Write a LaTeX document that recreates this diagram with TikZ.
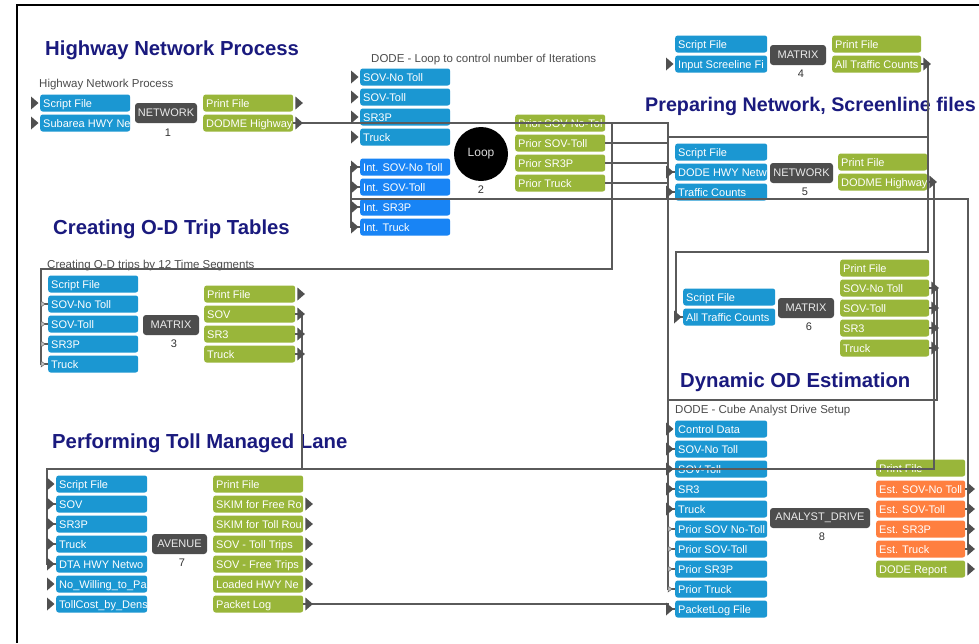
\documentclass[tikz,border=0pt]{standalone}
\usepackage{fontspec}
\setmainfont{Liberation Sans}
\usetikzlibrary{calc}
\definecolor{cblue}{RGB}{27,151,210}
\definecolor{cint}{RGB}{24,132,245}
\definecolor{cgreen}{RGB}{153,182,58}
\definecolor{corange}{RGB}{255,127,63}
\definecolor{cgray}{RGB}{77,77,77}
\definecolor{cnavy}{RGB}{26,26,126}
\definecolor{carrow}{RGB}{80,80,80}
\definecolor{cline}{RGB}{90,90,90}
\newcommand\bxf{\fontsize{11}{13}\selectfont}
\newcommand\ttlf{\fontsize{20.3}{24}\selectfont\bfseries}
\newcommand\lblf{\fontsize{11.5}{13}\selectfont}
% style, name, x, y, width, text
\newcommand\pbx[6]{%
  \node[pb,#1,minimum width=#5pt] (#2) at (#3,#4) {};
  \begin{scope}
    \clip[rounded corners=2.5pt] (#2.south west) rectangle (#2.north east);
    \node[pbt] (#2t) at ([xshift=3pt,yshift=-4pt]#2.west) {#6};
  \end{scope}}
\newcommand\portin[1]{\fill[arw] ([xshift=-9pt,yshift=6.5pt]#1.west) -- ([xshift=-9pt,yshift=-6.5pt]#1.west) -- ([xshift=-1.5pt]#1.west) -- cycle;}
\newcommand\portout[1]{\fill[arw] ([xshift=2pt,yshift=6.5pt]#1.east) -- ([xshift=2pt,yshift=-6.5pt]#1.east) -- ([xshift=9.5pt]#1.east) -- cycle;}
\newcommand\portsm[1]{\filldraw[arws] ([xshift=-7pt,yshift=3pt]#1.west) -- ([xshift=-7pt,yshift=-3pt]#1.west) -- ([xshift=-3pt]#1.west) -- cycle;}
\begin{document}
\begin{tikzpicture}[x=1pt,y=-1pt,
  pb/.style={anchor=west, minimum height=17pt, inner sep=0pt, rounded corners=2.5pt},
  pbt/.style={anchor=base west, inner sep=0pt, font=\bxf, text=white},
  inb/.style={fill=cblue}, intb/.style={fill=cint}, outb/.style={fill=cgreen}, estb/.style={fill=corange},
  proc/.style={fill=cgray, rounded corners=3pt, minimum height=20pt, inner sep=0pt, text=black!8, font=\bxf},
  num/.style={font=\bxf, text=black!80, inner sep=0pt},
  ttl/.style={anchor=base west, font=\ttlf, text=cnavy, inner sep=0pt},
  glabel/.style={anchor=base west, font=\lblf, text=black!70, inner sep=0pt},
  conn/.style={draw=cline, line width=1.1pt},
  arw/.style={fill=carrow},
  arws/.style={fill=gray!45, draw=gray!75!black, line width=0.5pt}
]
\useasboundingbox (0,0) rectangle (979,643);
\fill[white] (0,0) rectangle (979,643);
\draw[line width=1.6pt, black] (979,5) -- (17,5) -- (17,643);

% titles
\node[ttl] (t1) at (45,55) {Highway Network Process};
\node[ttl, font=\fontsize{19.7}{24}\selectfont\bfseries] (t2) at (645,111) {Preparing Network, Screenline files};
\node[ttl] (t3) at (53,234) {Creating O-D Trip Tables};
\node[ttl] (t4) at (680,387) {Dynamic OD Estimation};
\node[ttl] (t5) at (52,448) {Performing Toll Managed Lane};

% group labels
\node[glabel] (l1) at (39,87) {Highway Network Process};
\node[glabel] (l2) at (371,62) {DODE - Loop to control number of Iterations};
\node[glabel] (l3) at (47,268) {Creating O-D trips by 12 Time Segments};
\node[glabel] (l4) at (675,413) {DODE - Cube Analyst Drive Setup};

% node 1
\pbx{inb}{n1i1}{40}{103}{90}{Script File}
\pbx{inb}{n1i2}{40}{123}{90}{Subarea HWY Ne}
\node[proc, minimum width=62pt] (p1) at (166,113) {NETWORK};
\node[num] (num1) at (168,133) {1};
\pbx{outb}{n1o1}{203}{103}{90}{Print File}
\pbx{outb}{n1o2}{203}{123}{90}{DODME Highway}

% node 2
\pbx{inb}{n2i1}{360}{77}{90}{SOV-No Toll}
\pbx{inb}{n2i2}{360}{97}{90}{SOV-Toll}
\pbx{inb}{n2i3}{360}{117}{90}{SR3P}
\pbx{inb}{n2i4}{360}{137}{90}{Truck}
\pbx{intb}{n2i5}{360}{167}{90}{Int. SOV-No Toll}
\pbx{intb}{n2i6}{360}{187}{90}{Int. SOV-Toll}
\pbx{intb}{n2i7}{360}{207}{90}{Int. SR3P}
\pbx{intb}{n2i8}{360}{227}{90}{Int. Truck}
\node[circle, fill=black, minimum size=54pt, inner sep=0pt, text=black!15, font=\fontsize{12}{14}\selectfont] (loop) at (481,154) {Loop};
\node[num] (num2) at (481,190) {2};
\pbx{outb}{n2o1}{515}{123}{90}{Prior SOV No-Tol}
\pbx{outb}{n2o2}{515}{143}{90}{Prior SOV-Toll}
\pbx{outb}{n2o3}{515}{163}{90}{Prior SR3P}
\pbx{outb}{n2o4}{515}{183}{90}{Prior Truck}

% node 4
\pbx{inb}{n4i1}{675}{44}{92}{Script File}
\pbx{inb}{n4i2}{675}{64}{92}{Input Screeline Fi}
\node[proc, minimum width=56pt] (p4) at (798,55) {MATRIX};
\node[num] (num4) at (801,74) {4};
\pbx{outb}{n4o1}{832}{44}{89}{Print File}
\pbx{outb}{n4o2}{832}{64}{89}{All Traffic Counts}

% node 5
\pbx{inb}{n5i1}{675}{152}{92}{Script File}
\pbx{inb}{n5i2}{675}{172}{92}{DODE HWY Netw}
\pbx{inb}{n5i3}{675}{192}{92}{Traffic Counts}
\node[proc, minimum width=63pt] (p5) at (801.5,173) {NETWORK};
\node[num] (num5) at (805,192) {5};
\pbx{outb}{n5o1}{838}{162}{89}{Print File}
\pbx{outb}{n5o2}{838}{182}{89}{DODME Highway}

% node 3
\pbx{inb}{n3i1}{48}{284}{90}{Script File}
\pbx{inb}{n3i2}{48}{304}{90}{SOV-No Toll}
\pbx{inb}{n3i3}{48}{324}{90}{SOV-Toll}
\pbx{inb}{n3i4}{48}{344}{90}{SR3P}
\pbx{inb}{n3i5}{48}{364}{90}{Truck}
\node[proc, minimum width=56pt] (p3) at (171,325) {MATRIX};
\node[num] (num3) at (174,344) {3};
\pbx{outb}{n3o1}{204}{294}{91}{Print File}
\pbx{outb}{n3o2}{204}{314}{91}{SOV}
\pbx{outb}{n3o3}{204}{334}{91}{SR3}
\pbx{outb}{n3o4}{204}{354}{91}{Truck}

% node 6
\pbx{inb}{n6i1}{683}{297}{92}{Script File}
\pbx{inb}{n6i2}{683}{317}{92}{All Traffic Counts}
\node[proc, minimum width=56pt] (p6) at (806,308) {MATRIX};
\node[num] (num6) at (809,327) {6};
\pbx{outb}{n6o1}{840}{268}{89}{Print File}
\pbx{outb}{n6o2}{840}{288}{89}{SOV-No Toll}
\pbx{outb}{n6o3}{840}{308}{89}{SOV-Toll}
\pbx{outb}{n6o4}{840}{328}{89}{SR3}
\pbx{outb}{n6o5}{840}{348}{89}{Truck}

% node 7
\pbx{inb}{n7i1}{56}{484}{91}{Script File}
\pbx{inb}{n7i2}{56}{504}{91}{SOV}
\pbx{inb}{n7i3}{56}{524}{91}{SR3P}
\pbx{inb}{n7i4}{56}{544}{91}{Truck}
\pbx{inb}{n7i5}{56}{564}{91}{DTA HWY Netwo}
\pbx{inb}{n7i6}{56}{584}{91}{No\_Willing\_to\_Pa}
\pbx{inb}{n7i7}{56}{604}{91}{TollCost\_by\_Dens}
\node[proc, minimum width=55pt] (p7) at (179.5,544) {AVENUE};
\node[num] (num7) at (182,563) {7};
\pbx{outb}{n7o1}{213}{484}{90}{Print File}
\pbx{outb}{n7o2}{213}{504}{90}{SKIM for Free Ro}
\pbx{outb}{n7o3}{213}{524}{90}{SKIM for Toll Rou}
\pbx{outb}{n7o4}{213}{544}{90}{SOV - Toll Trips}
\pbx{outb}{n7o5}{213}{564}{90}{SOV - Free Trips}
\pbx{outb}{n7o6}{213}{584}{90}{Loaded HWY Ne}
\pbx{outb}{n7o7}{213}{604}{90}{Packet Log}

% node 8
\pbx{inb}{n8i1}{675}{429}{92}{Control Data}
\pbx{inb}{n8i2}{675}{449}{92}{SOV-No Toll}
\pbx{inb}{n8i3}{675}{469}{92}{SOV-Toll}
\pbx{inb}{n8i4}{675}{489}{92}{SR3}
\pbx{inb}{n8i5}{675}{509}{92}{Truck}
\pbx{inb}{n8i6}{675}{529}{92}{Prior SOV No-Toll}
\pbx{inb}{n8i7}{675}{549}{92}{Prior SOV-Toll}
\pbx{inb}{n8i8}{675}{569}{92}{Prior SR3P}
\pbx{inb}{n8i9}{675}{589}{92}{Prior Truck}
\pbx{inb}{n8i10}{675}{609}{92}{PacketLog File}
\node[proc, minimum width=100pt] (p8) at (820,518) {ANALYST\_DRIVE};
\node[num] (num8) at (822,537) {8};
\pbx{outb}{n8o1}{876}{468}{89}{Print File}
\pbx{estb}{n8o2}{876}{489}{89}{Est. SOV-No Toll}
\pbx{estb}{n8o3}{876}{509}{89}{Est. SOV-Toll}
\pbx{estb}{n8o4}{876}{529}{89}{Est. SR3P}
\pbx{estb}{n8o5}{876}{549}{89}{Est. Truck}
\pbx{outb}{n8o6}{876}{569}{89}{DODE Report}

% connectors
\draw[conn] (n1o2.east) -| (668,0 |- n5i2.west) -- (n5i2.west);
\foreach \a/\b in {1/6,2/7,3/8,4/9}
  \draw[conn] (n2o\a.east) -| (668,0 |- n8i\b.west) -- (n8i\b.west);
\foreach \a/\b in {1/2,2/3,3/4,4/5}
  \draw[conn] (n2o\a.east) -| (612,269) -| (41,0 |- n3i\b.west) -- (n3i\b.west);
\draw[conn] (n4o2.east) -| (928,137) -| (668,0 |- n5i3.west) -- (n5i3.west);
\draw[conn] (n4o2.east) -| (928,252) -| (676,0 |- n6i2.west) -- (n6i2.west);
\draw[conn] (n5o2.east) -| (934,469) -| (47,0 |- n7i5.west) -- (n7i5.west);
\foreach \a in {2,3,4}
  \draw[conn] (n3o\a.east) -| (302,469) -| (47,0 |- n7i\a.west) -- (n7i\a.west);
\foreach \a in {2,3,4,5}
  \draw[conn] (n6o\a.east) -| (937,400) -| (668,0 |- n8i\a.west) -- (n8i\a.west);
\draw[conn] (n7o7.east) -| (668,0 |- n8i10.west) -- (n8i10.west);
\foreach \a/\b in {2/5,3/6,4/7,5/8}
  \draw[conn] (n8o\a.east) -| (968,199) -| (351,0 |- n2i\b.west) -- (n2i\b.west);

% port arrows
\portin{n1i1}\portin{n1i2}\portout{n1o1}\portout{n1o2}
\foreach \k in {1,...,8}{\portin{n2i\k}}
\portin{n4i2}\portout{n4o2}
\portin{n5i2}\portin{n5i3}\portout{n5o2}
\foreach \k in {2,...,5}{\portsm{n3i\k}}
\foreach \k in {1,...,4}{\portout{n3o\k}}
\portin{n6i2}
\foreach \k in {2,...,5}{\portout{n6o\k}}
\foreach \k in {1,...,7}{\portin{n7i\k}}
\foreach \k in {2,...,7}{\portout{n7o\k}}
\foreach \k in {1,...,5}{\portin{n8i\k}}
\foreach \k in {6,...,9}{\portsm{n8i\k}}
\portin{n8i10}
\foreach \k in {2,...,6}{\portout{n8o\k}}
\end{tikzpicture}
\end{document}
